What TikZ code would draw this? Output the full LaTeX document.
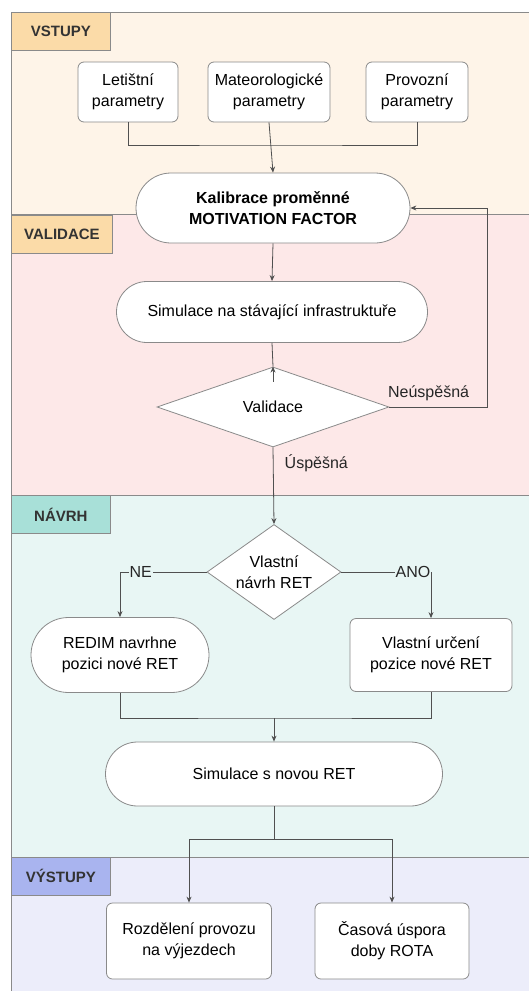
\documentclass[tikz,border=0pt]{standalone}
\usepackage{fontspec}
\setmainfont{Liberation Sans}
\usepackage{tikz}
\usepackage{xcolor}
\usetikzlibrary{shapes.geometric, shapes.misc, arrows.meta, positioning}
\definecolor{inbg}{HTML}{FEF4E8}
\definecolor{valbg}{HTML}{FDE8E8}
\definecolor{navbg}{HTML}{E8F6F4}
\definecolor{outbg}{HTML}{ECEDFA}
\definecolor{inlab}{HTML}{FBDBA8}
\definecolor{navlab}{HTML}{A8E0D8}
\definecolor{outlab}{HTML}{A9B4EF}
\definecolor{edge}{HTML}{8A8A8A}
\definecolor{wire}{HTML}{505050}
\tikzstyle{lane} = [draw=edge, line width=0.8pt]
\tikzstyle{lanelabel} = [draw=edge, line width=0.8pt, anchor=north west,
minimum width=99pt, minimum height=38pt, inner sep=0pt,
font=\fontsize{15}{18}\selectfont\bfseries, text=black!80]
\tikzstyle{box} = [rectangle, rounded corners=6pt, draw=edge, fill=white,
line width=0.8pt, align=center, inner sep=0pt,
font=\fontsize{16}{21}\selectfont]
\tikzstyle{term} = [rounded rectangle, draw=edge, fill=white,
line width=0.8pt, align=center, inner sep=0pt,
font=\fontsize{16}{21}\selectfont]
\tikzstyle{decision} = [diamond, draw=edge, fill=white, line width=0.8pt,
align=center, inner sep=0pt, font=\fontsize{16}{21}\selectfont]
\tikzstyle{tag} = [font=\fontsize{16}{21}\selectfont, text=black!85]
\tikzstyle{wire} = [draw=wire, line width=0.8pt]
\tikzstyle{arrow} = [wire, -{Stealth[length=6pt, width=5pt]}]

\begin{document}
\begin{tikzpicture}[x=1pt, y=-1pt]
        \useasboundingbox (0,0) rectangle (528,991);
        % lanes
        \fill[inbg] (11,12) rectangle (535,214);
        \fill[valbg] (11,214) rectangle (535,495);
        \fill[navbg] (11,495) rectangle (535,857);
        \fill[outbg] (11,857) rectangle (535,1000);
        \draw[lane] (535,12) -- (11,12) -- (11,1000);
        \draw[lane] (11,214) -- (535,214);
        \draw[lane] (11,495) -- (535,495);
        \draw[lane] (11,857) -- (535,857);
        \node[lanelabel, fill=inlab] (lin) at (11,12) {VSTUPY};
        \node[lanelabel, fill=inlab, minimum width=101pt] (lval) at (11,215) {VALIDACE};
        \node[lanelabel, fill=navlab] (lnav) at (11,495) {NÁVRH};
        \node[lanelabel, fill=outlab] (lout) at (11,857) {VÝSTUPY};

        \node[box, minimum width=100pt, minimum height=60pt] (let) at (128,92) {Letištní\\parametry};
        \node[box, minimum width=122pt, minimum height=60pt] (met) at (269,92) {Mateorologické\\parametry};
        \node[box, minimum width=102pt, minimum height=60pt] (pro) at (417,92) {Provozní\\parametry};
        \node[term, minimum width=274pt, minimum height=70pt, font=\fontsize{16}{21}\selectfont\bfseries] (kal) at (273,208) {Kalibrace proměnné\\MOTIVATION FACTOR};
        \node[term, minimum width=311pt, minimum height=61pt] (sim) at (272,312) {Simulace na stávající infrastruktuře};
        \node[decision, minimum width=232pt, minimum height=80pt, aspect=2.9] (val) at (273,407) {Validace};
        \node[decision, minimum width=134pt, minimum height=95pt, aspect=1.4] (vla) at (274,572) {Vlastní\\návrh RET};
        \node[term, minimum width=178pt, minimum height=75pt] (red) at (120,655) {REDIM navrhne\\pozici nové RET};
        \node[box, minimum width=162pt, minimum height=73pt] (urc) at (431,655) {Vlastní určení\\pozice nové RET};
        \node[term, minimum width=337pt, minimum height=64pt] (snr) at (274,774) {Simulace s novou RET};
        \node[box, minimum width=165pt, minimum height=76pt] (roz) at (189,941) {Rozdělení provozu\\na výjezdech};
        \node[box, minimum width=154pt, minimum height=76pt] (cas) at (392,941) {Časová úspora\\doby ROTA};

        \coordinate (j1) at (269,145);
        \coordinate (loop) at (487,208);
        \coordinate (j2) at (274,718);
        \coordinate (j3) at (274,839);

        \draw[wire] (let.south) |- (j1) -| (pro.south);
        \draw[arrow] (met.south) -- (kal.north);
        \draw[arrow] (kal.south) -- (sim.north);
        \draw[wire] (sim.south) -- (val.north);
        \draw[arrow] ([yshift=-15pt]val.north) -- (val.north);
        \draw[arrow] (val.east) node[tag, anchor=south west, xshift=-5pt, yshift=2pt] {Neúspěšná} -| (loop) -- (kal.east);
        \draw[arrow] (val.south) node[tag, anchor=north west, xshift=8pt, yshift=-3pt] {Úspěšná} -- (vla.north);
        \draw[arrow] (vla.west) -| node[tag, pos=0.38, fill=navbg, inner sep=1pt] {NE} (red.north);
        \draw[arrow] (vla.east) -| node[tag, pos=0.4, fill=navbg, inner sep=1pt] {ANO} (urc.north);
        \draw[wire] (red.south) |- (j2) -| (urc.south);
        \draw[arrow] (j2) -- (snr.north);
        \draw[wire] (snr.south) -- (j3);
        \draw[arrow] (j3) -| (roz.north);
        \draw[arrow] (j3) -| (cas.north);
    \end{tikzpicture}
\end{document}
